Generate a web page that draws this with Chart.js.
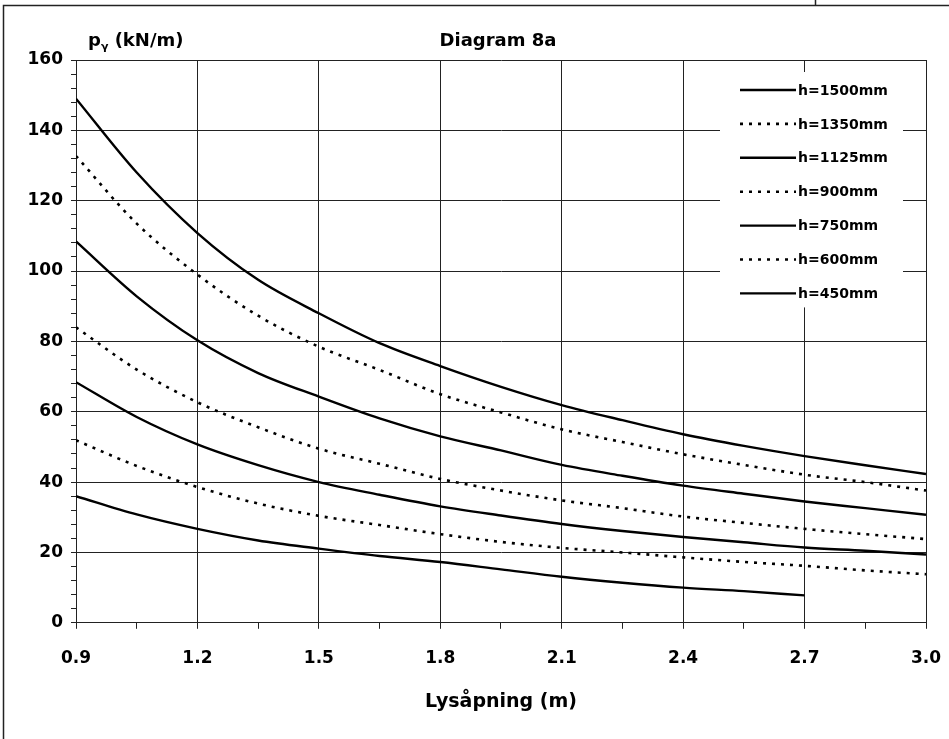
<!DOCTYPE html>
<html>
<head>
<meta charset="utf-8">
<script src="https://cdn.jsdelivr.net/npm/chart.js@4"></script>
<style>
  html, body { margin: 0; padding: 0; background: #fff; }
  #wrap { width: 949px; height: 739px; }
</style>
</head>
<body>
<div id="wrap"><canvas id="chart"></canvas></div>
<script>
// span (m)
var spans = [0.9, 1.05, 1.2, 1.35, 1.5, 1.65, 1.8, 1.95, 2.1, 2.25, 2.4, 2.55, 2.7, 2.85, 3.0];

// p_gamma (kN/m) per beam height
var h1500 = [149, 128, 110.8, 97.5, 88, 79.5, 73, 67.1, 61.9, 57.6, 53.6, 50.3, 47.4, 44.8, 42.3];
var h1350 = [132.7, 113.5, 99, 87.3, 78.5, 71.9, 65, 59.8, 55, 51.4, 47.9, 44.9, 42.1, 40, 37.6];
var h1125 = [108.4, 92.8, 80.3, 71, 64.3, 58.1, 53, 49, 44.9, 41.8, 39, 36.7, 34.5, 32.6, 30.7];
var h900 = [84, 72, 62.7, 55.6, 49.5, 45.2, 40.9, 37.6, 34.8, 32.6, 30.2, 28.4, 26.7, 25.2, 23.8];
var h750 = [68.4, 58.5, 50.7, 44.8, 40, 36.4, 33.1, 30.5, 28.1, 26.1, 24.4, 22.9, 21.4, 20.5, 19.4];
var h600 = [51.9, 44.6, 38.6, 33.9, 30.4, 27.8, 25.2, 23, 21.3, 20, 18.6, 17.3, 16.2, 14.9, 13.8];
var h450 = [36, 30.8, 26.7, 23.4, 21.1, 19, 17.3, 15.2, 13.1, 11.4, 10, 9.0, 7.8, null, null];

var seriesNames = ['h=1500mm', 'h=1350mm', 'h=1125mm', 'h=900mm', 'h=750mm', 'h=600mm', 'h=450mm'];
var seriesValues = [h1500, h1350, h1125, h900, h750, h600, h450];
var seriesDotted = [false, true, false, true, false, true, false];

var xTickLabels = ['0.9', '1.2', '1.5', '1.8', '2.1', '2.4', '2.7', '3.0'];
var yTickLabels = [0, 20, 40, 60, 80, 100, 120, 140, 160];

var FONT = 'DejaVu Sans';
Chart.defaults.font.family = FONT;
Chart.defaults.font.weight = 'bold';
Chart.defaults.color = '#000';

function toPoints(vals) {
  var pts = [];
  for (var i = 0; i < spans.length; i++) {
    if (vals[i] != null) pts.push({ x: spans[i], y: vals[i] });
  }
  return pts;
}

var datasets = seriesNames.map(function(name, i) {
  return {
    label: name,
    data: toPoints(seriesValues[i]),
    borderColor: '#000',
    borderWidth: seriesDotted[i] ? 2.6 : 2.4,
    borderDash: seriesDotted[i] ? [3, 6] : [],
    pointRadius: 0,
    fill: false,
    cubicInterpolationMode: 'monotone'
  };
});

function isMajorX(v) {
  return xTickLabels.some(function(t) { return Math.abs(parseFloat(t) - v) < 1e-6; });
}

// legend, y label, title and the page frame
var extras = {
  id: 'extras',
  beforeDraw: function(chart) {
    var c = chart.ctx;
    c.save();
    c.fillStyle = '#fff';
    c.fillRect(0, 0, chart.width, chart.height);
    c.restore();
  },
  afterDatasetsDraw: function(chart) {
    var c = chart.ctx, a = chart.chartArea;
    c.save();
    // legend box inside plot (hides the grid behind it)
    var lx = a.right - 186, ly = a.top + 30, gap = 33.9;
    c.fillStyle = '#fff';
    c.fillRect(a.right - 206, a.top + 12, 183, ly + 6 * gap + 14 - (a.top + 12));
    c.font = 'bold 14px ' + FONT;
    c.textBaseline = 'middle';
    c.textAlign = 'left';
    chart.data.datasets.forEach(function(ds, i) {
      var y = ly + i * gap;
      c.strokeStyle = '#000';
      c.lineWidth = ds.borderWidth;
      c.setLineDash(ds.borderDash);
      c.beginPath();
      c.moveTo(lx, y);
      c.lineTo(lx + 56, y);
      c.stroke();
      c.setLineDash([]);
      c.fillStyle = '#000';
      c.fillText(ds.label, lx + 58, y + 1);
    });
    c.restore();
  },
  afterDraw: function(chart) {
    var c = chart.ctx, a = chart.chartArea;
    c.save();
    c.fillStyle = '#000';
    c.textBaseline = 'alphabetic';
    // title
    c.font = 'bold 18px ' + FONT;
    c.textAlign = 'center';
    c.fillText('Diagram 8a', a.left + (a.right - a.left) / 2 - 3, 46);
    // y axis label p_gamma (kN/m)
    c.textAlign = 'left';
    var x = 88;
    c.fillText('p', x, 46);
    x += c.measureText('p').width;
    c.font = 'bold 11px ' + FONT;
    c.fillText('\u03b3', x, 50);
    x += c.measureText('\u03b3').width;
    c.font = 'bold 18px ' + FONT;
    c.fillText(' (kN/m)', x, 46);
    // page frame
    c.strokeStyle = '#222';
    c.lineWidth = 1.5;
    c.beginPath();
    c.moveTo(3.5, 739);
    c.lineTo(3.5, 5.5);
    c.lineTo(949, 5.5);
    c.moveTo(815.5, 0);
    c.lineTo(815.5, 5.5);
    c.stroke();
    c.restore();
  }
};

var ctx = document.getElementById('chart').getContext('2d');
var chart = new Chart(ctx, {
  type: 'line',
  data: { datasets: datasets },
  options: {
    responsive: true,
    maintainAspectRatio: false,
    animation: false,
    layout: { padding: { top: 60, right: 23, left: 26, bottom: 26 } },
    plugins: {
      legend: { display: false },
      tooltip: { enabled: false }
    },
    scales: {
      x: {
        type: 'linear',
        min: 0.9,
        max: 3.0,
        afterBuildTicks: function(scale) {
          scale.ticks = spans.map(function(v) { return { value: v }; });
        },
        afterFit: function(scale) {
          scale.paddingLeft = 0;
          scale.paddingRight = 0;
        },
        ticks: {
          autoSkip: false,
          maxRotation: 0,
          padding: 20,
          font: { size: 17, weight: 'bold' },
          callback: function(v) {
            return isMajorX(v) ? v.toFixed(1) : '';
          }
        },
        grid: {
          color: function(c) { return c.tick && isMajorX(c.tick.value) ? '#222' : 'rgba(0,0,0,0)'; },
          tickColor: '#222',
          tickLength: 6,
          lineWidth: 1
        },
        border: { color: '#222', width: 1 },
        title: {
          display: true,
          text: 'Lysåpning (m)',
          font: { size: 19, weight: 'bold' },
          padding: { top: 1, bottom: 0 }
        }
      },
      y: {
        min: 0,
        max: 160,
        afterBuildTicks: function(scale) {
          var t = [];
          for (var v = 0; v <= 160; v += 4) t.push({ value: v });
          scale.ticks = t;
        },
        afterFit: function(scale) { scale.width = 50; },
        ticks: {
          autoSkip: false,
          padding: 8,
          font: { size: 17, weight: 'bold' },
          callback: function(v) {
            return yTickLabels.indexOf(v) >= 0 ? String(v) : '';
          }
        },
        grid: {
          color: function(c) { return c.tick && yTickLabels.indexOf(c.tick.value) >= 0 ? '#222' : 'rgba(0,0,0,0)'; },
          tickColor: '#222',
          tickLength: 5,
          lineWidth: 1
        },
        border: { color: '#222', width: 1 }
      }
    }
  },
  plugins: [extras]
});
</script>
</body>
</html>
